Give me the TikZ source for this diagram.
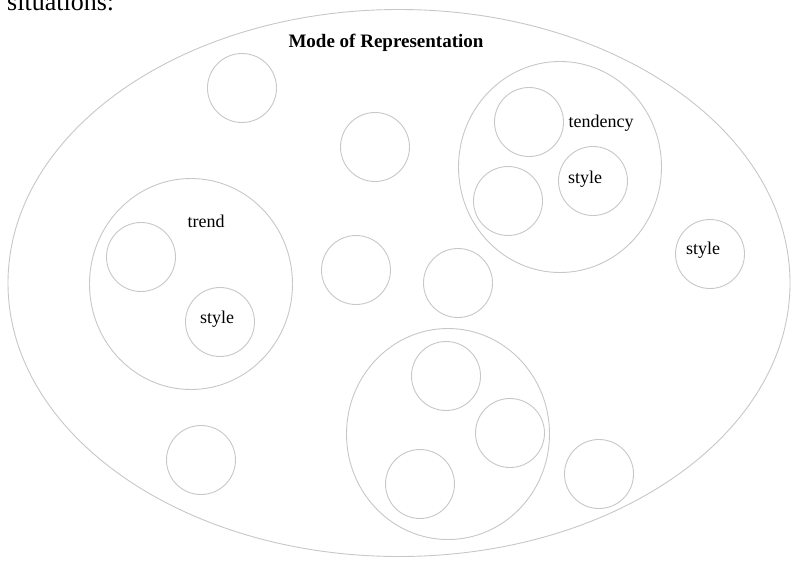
\documentclass[tikz,border=0pt]{standalone}
\usepackage{fontspec}
\setmainfont{Liberation Serif}
\usetikzlibrary{shapes.geometric}

\begin{document}
\begin{tikzpicture}[
    x=1pt, y=-1pt,
    outline/.style={draw=black!22, line width=0.9pt, inner sep=0pt},
    small/.style={outline, circle, minimum size=69pt},
    group/.style={outline, ellipse, minimum width=203pt, minimum height=211pt},
    tag/.style={font=\fontsize{18}{20}\selectfont, inner sep=0pt}
]
    \useasboundingbox (0,0) rectangle (792,560);
    \begin{scope}
        \clip (0,0) rectangle (792,560);
        \node[anchor=base west, inner sep=0pt, font=\fontsize{26}{28}\selectfont] (caption) at (7,10.5) {situations:};
    \end{scope}

    % outer field
    \node[outline, ellipse, minimum width=782pt, minimum height=547pt] (mode) at (399,283) {};
    \node[tag, font=\fontsize{19}{21}\selectfont\bfseries] (title) at (386,43) {Mode of Representation};

    % left group
    \node[group] (trendgrp) at (191,284) {};
    \node[small] (trendA) at (141,257) {};
    \node[small] (trendB) at (220,322) {};
    \node[tag] (trendlbl) at (206,221) {trend};
    \node[tag] (trendsty) at (217,319) {style};

    % right group
    \node[group] (tendgrp) at (560,167) {};
    \node[small] (tendA) at (529,122) {};
    \node[small] (tendB) at (593,181) {};
    \node[small] (tendC) at (508,201) {};
    \node[tag] (tendlbl) at (601,123) {tendency};
    \node[tag] (tendsty) at (585,179) {style};

    % bottom group
    \node[group] (lowgrp) at (448,434) {};
    \node[small] (lowA) at (446,376) {};
    \node[small] (lowB) at (510,433) {};
    \node[small] (lowC) at (420,484) {};

    % loose circles
    \node[small] (topleft) at (242,88) {};
    \node[small] (topmid) at (375,147) {};
    \node[small] (midA) at (356,270) {};
    \node[small] (midB) at (458,283) {};
    \node[small] (rightsty) at (710,254) {};
    \node[tag] (rightlbl) at (703,250) {style};
    \node[small] (botleft) at (201,460) {};
    \node[small] (botright) at (599,474) {};
\end{tikzpicture}
\end{document}
